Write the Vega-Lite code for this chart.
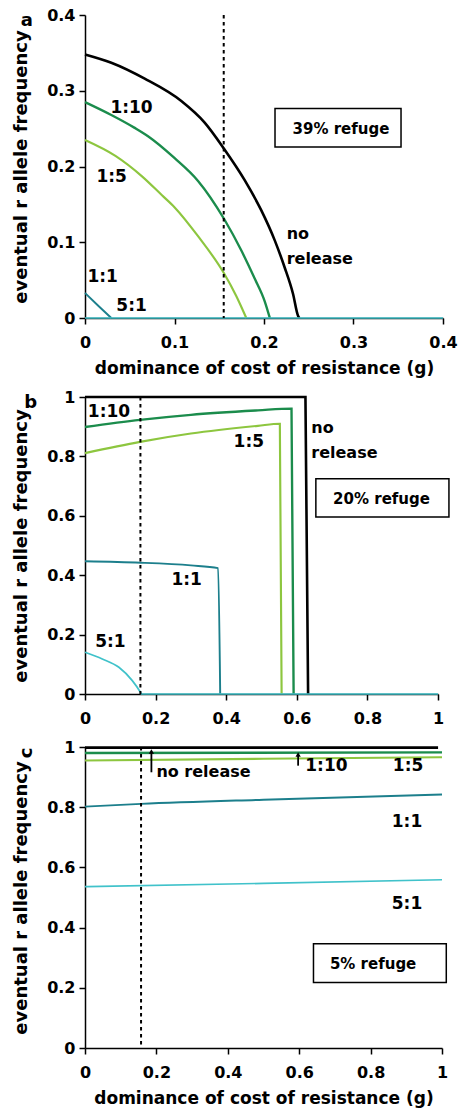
{
  "$schema": "https://vega.github.io/schema/vega-lite/v6.json",
  "background": "white",
  "padding": {"top": 7, "left": 12, "right": 4, "bottom": 4},
  "spacing": 13,
  "datasets": {
    "a_lines": [
      {"series": "no release", "g": 0, "f": 0.348},
      {"series": "no release", "g": 0.0294, "f": 0.337},
      {"series": "no release", "g": 0.0667, "f": 0.316},
      {"series": "no release", "g": 0.1076, "f": 0.2865},
      {"series": "no release", "g": 0.1337, "f": 0.258},
      {"series": "no release", "g": 0.1553, "f": 0.2235},
      {"series": "no release", "g": 0.1784, "f": 0.182},
      {"series": "no release", "g": 0.197, "f": 0.142},
      {"series": "no release", "g": 0.212, "f": 0.1025},
      {"series": "no release", "g": 0.223, "f": 0.067},
      {"series": "no release", "g": 0.2324, "f": 0.032},
      {"series": "no release", "g": 0.238, "f": 0.003},
      {"series": "no release", "g": 0.2395, "f": 0},
      {"series": "1:10", "g": 0, "f": 0.285},
      {"series": "1:10", "g": 0.0294, "f": 0.268},
      {"series": "1:10", "g": 0.0555, "f": 0.251},
      {"series": "1:10", "g": 0.0704, "f": 0.24},
      {"series": "1:10", "g": 0.1002, "f": 0.211},
      {"series": "1:10", "g": 0.1263, "f": 0.181},
      {"series": "1:10", "g": 0.1553, "f": 0.131},
      {"series": "1:10", "g": 0.1747, "f": 0.089},
      {"series": "1:10", "g": 0.1896, "f": 0.052},
      {"series": "1:10", "g": 0.2008, "f": 0.022},
      {"series": "1:10", "g": 0.2065, "f": 0},
      {"series": "1:5", "g": 0, "f": 0.235},
      {"series": "1:5", "g": 0.034, "f": 0.214},
      {"series": "1:5", "g": 0.0637, "f": 0.187},
      {"series": "1:5", "g": 0.086, "f": 0.162},
      {"series": "1:5", "g": 0.1002, "f": 0.146},
      {"series": "1:5", "g": 0.1263, "f": 0.108},
      {"series": "1:5", "g": 0.1553, "f": 0.059},
      {"series": "1:5", "g": 0.169, "f": 0.029},
      {"series": "1:5", "g": 0.1802, "f": 0},
      {"series": "1:1", "g": 0, "f": 0.033},
      {"series": "1:1", "g": 0.0145, "f": 0.0165},
      {"series": "1:1", "g": 0.0294, "f": 0},
      {"series": "5:1", "g": 0, "f": 0},
      {"series": "5:1", "g": 0.4, "f": 0}
    ],
    "b_lines": [
      {"series": "no release", "g": 0, "f": 1},
      {"series": "no release", "g": 0.6245, "f": 1},
      {"series": "no release", "g": 0.632, "f": 0},
      {"series": "1:10", "g": 0, "f": 0.899},
      {"series": "1:10", "g": 0.156, "f": 0.923},
      {"series": "1:10", "g": 0.3, "f": 0.94},
      {"series": "1:10", "g": 0.49, "f": 0.955},
      {"series": "1:10", "g": 0.585, "f": 0.961},
      {"series": "1:10", "g": 0.591, "f": 0},
      {"series": "1:5", "g": 0, "f": 0.811},
      {"series": "1:5", "g": 0.156, "f": 0.849},
      {"series": "1:5", "g": 0.3, "f": 0.877},
      {"series": "1:5", "g": 0.49, "f": 0.903},
      {"series": "1:5", "g": 0.552, "f": 0.91},
      {"series": "1:5", "g": 0.557, "f": 0},
      {"series": "1:1", "g": 0, "f": 0.447},
      {"series": "1:1", "g": 0.1575, "f": 0.442},
      {"series": "1:1", "g": 0.3, "f": 0.433},
      {"series": "1:1", "g": 0.377, "f": 0.424},
      {"series": "1:1", "g": 0.383, "f": 0},
      {"series": "5:1", "g": 0, "f": 0.1405},
      {"series": "5:1", "g": 0.049, "f": 0.118},
      {"series": "5:1", "g": 0.096, "f": 0.09},
      {"series": "5:1", "g": 0.134, "f": 0.045},
      {"series": "5:1", "g": 0.157, "f": 0.006},
      {"series": "5:1", "g": 0.16, "f": 0},
      {"series": "5:1", "g": 1, "f": 0}
    ],
    "c_lines": [
      {"series": "no release", "g": 0, "f": 0.998},
      {"series": "no release", "g": 0.989, "f": 0.998},
      {"series": "1:10", "g": 0, "f": 0.98},
      {"series": "1:10", "g": 1, "f": 0.982},
      {"series": "1:5", "g": 0, "f": 0.955},
      {"series": "1:5", "g": 0.5, "f": 0.961},
      {"series": "1:5", "g": 1, "f": 0.966},
      {"series": "1:1", "g": 0, "f": 0.802},
      {"series": "1:1", "g": 0.157, "f": 0.811},
      {"series": "1:1", "g": 0.5, "f": 0.825},
      {"series": "1:1", "g": 1, "f": 0.842},
      {"series": "5:1", "g": 0, "f": 0.536},
      {"series": "5:1", "g": 0.5, "f": 0.547},
      {"series": "5:1", "g": 1, "f": 0.559}
    ]
  },
  "vconcat": [
    {
      "width": 358,
      "height": 303,
      "layer": [
        {
          "data": {"name": "a_lines"},
          "mark": {"type": "line", "strokeCap": "butt", "interpolate": "monotone"},
          "encoding": {
            "x": {"field": "g", "type": "quantitative", "scale": {"domain": [0, 0.4], "nice": false},
              "axis": {"values": [0, 0.1, 0.2, 0.3, 0.4], "format": "~g", "title": "dominance of cost of resistance (g)"}},
            "y": {"field": "f", "type": "quantitative", "scale": {"domain": [0, 0.4], "nice": false},
              "axis": {"values": [0, 0.1, 0.2, 0.3, 0.4], "format": "~g", "title": "eventual r allele frequency"}},
            "color": {"field": "series", "type": "nominal", "legend": null,
              "scale": {"domain": ["no release", "1:10", "1:5", "1:1", "5:1"], "range": ["#000000", "#1b8c4c", "#8dc63f", "#1c7f8c", "#40c2ca"]}},
            "strokeWidth": {"field": "series", "type": "nominal", "legend": null,
              "scale": {"domain": ["no release", "1:10", "1:5", "1:1", "5:1"], "range": [2.6, 1.7, 1.7, 1.7, 1.7]}}
          }
        },
        {
          "data": {"values": [{"g": 0.155}]},
          "mark": {"type": "rule", "color": "#000", "strokeWidth": 2, "strokeDash": [3.5, 3.5]},
          "encoding": {"x": {"field": "g", "type": "quantitative"}}
        },
        {
          "data": {"values": [{"g1": 0.2123, "g2": 0.3531, "f1": 0.2259, "f2": 0.2767}]},
          "mark": {"type": "rect", "fill": "white", "stroke": "#000", "strokeWidth": 1.5},
          "encoding": {"x": {"field": "g1", "type": "quantitative"}, "x2": {"field": "g2"}, "y": {"field": "f1", "type": "quantitative"}, "y2": {"field": "f2"}}
        },
        {
          "data": {"values": [{"g": 0.286, "f": 0.25, "label": "39% refuge"}]},
          "mark": {"type": "text", "fontSize": 15, "align": "center", "baseline": "middle"},
          "encoding": {"x": {"field": "g", "type": "quantitative"}, "y": {"field": "f", "type": "quantitative"}, "text": {"field": "label"}}
        },
        {
          "data": {"values": [
            {"g": 0.052, "f": 0.277, "label": "1:10"},
            {"g": 0.0298, "f": 0.186, "label": "1:5"},
            {"g": 0.0197, "f": 0.054, "label": "1:1"},
            {"g": 0.052, "f": 0.0152, "label": "5:1"}
          ]},
          "mark": {"type": "text", "fontSize": 17, "align": "center", "baseline": "middle"},
          "encoding": {"x": {"field": "g", "type": "quantitative"}, "y": {"field": "f", "type": "quantitative"}, "text": {"field": "label"}}
        },
        {
          "data": {"values": [{"g": 0.2253, "f": 0.1107, "label": "no\nrelease"}]},
          "mark": {"type": "text", "fontSize": 16, "align": "left", "baseline": "middle", "lineBreak": "\n", "lineHeight": 25},
          "encoding": {"x": {"field": "g", "type": "quantitative"}, "y": {"field": "f", "type": "quantitative"}, "text": {"field": "label"}}
        },
        {
          "data": {"values": [{"g": -0.065, "f": 0.392, "label": "a"}]},
          "mark": {"type": "text", "fontSize": 18, "align": "center", "baseline": "middle"},
          "encoding": {"x": {"field": "g", "type": "quantitative"}, "y": {"field": "f", "type": "quantitative"}, "text": {"field": "label"}}
        }
      ]
    },
    {
      "width": 353,
      "height": 297,
      "layer": [
        {
          "data": {"name": "b_lines"},
          "mark": {"type": "line", "strokeCap": "butt", "interpolate": "monotone"},
          "encoding": {
            "x": {"field": "g", "type": "quantitative", "scale": {"domain": [0, 1], "nice": false},
              "axis": {"values": [0, 0.2, 0.4, 0.6, 0.8, 1], "format": "~g", "title": null}},
            "y": {"field": "f", "type": "quantitative", "scale": {"domain": [0, 1], "nice": false},
              "axis": {"values": [0, 0.2, 0.4, 0.6, 0.8, 1], "format": "~g", "title": "eventual r allele frequency"}},
            "color": {"field": "series", "type": "nominal", "legend": null,
              "scale": {"domain": ["no release", "1:10", "1:5", "1:1", "5:1"], "range": ["#000000", "#1b8c4c", "#8dc63f", "#1c7f8c", "#40c2ca"]}},
            "strokeWidth": {"field": "series", "type": "nominal", "legend": null,
              "scale": {"domain": ["no release", "1:10", "1:5", "1:1", "5:1"], "range": [2.6, 1.7, 1.7, 1.7, 1.7]}}
          }
        },
        {
          "data": {"values": [{"g": 0.157}]},
          "mark": {"type": "rule", "color": "#000", "strokeWidth": 2, "strokeDash": [3.5, 3.5]},
          "encoding": {"x": {"field": "g", "type": "quantitative"}}
        },
        {
          "data": {"values": [{"g1": 0.654, "g2": 1.031, "f1": 0.596, "f2": 0.725}]},
          "mark": {"type": "rect", "fill": "white", "stroke": "#000", "strokeWidth": 1.5},
          "encoding": {"x": {"field": "g1", "type": "quantitative"}, "x2": {"field": "g2"}, "y": {"field": "f1", "type": "quantitative"}, "y2": {"field": "f2"}}
        },
        {
          "data": {"values": [{"g": 0.84, "f": 0.655, "label": "20% refuge"}]},
          "mark": {"type": "text", "fontSize": 15, "align": "center", "baseline": "middle"},
          "encoding": {"x": {"field": "g", "type": "quantitative"}, "y": {"field": "f", "type": "quantitative"}, "text": {"field": "label"}}
        },
        {
          "data": {"values": [
            {"g": 0.068, "f": 0.949, "label": "1:10"},
            {"g": 0.464, "f": 0.85, "label": "1:5"},
            {"g": 0.288, "f": 0.385, "label": "1:1"},
            {"g": 0.072, "f": 0.174, "label": "5:1"}
          ]},
          "mark": {"type": "text", "fontSize": 17, "align": "center", "baseline": "middle"},
          "encoding": {"x": {"field": "g", "type": "quantitative"}, "y": {"field": "f", "type": "quantitative"}, "text": {"field": "label"}}
        },
        {
          "data": {"values": [{"g": 0.641, "f": 0.896, "label": "no\nrelease"}]},
          "mark": {"type": "text", "fontSize": 16, "align": "left", "baseline": "middle", "lineBreak": "\n", "lineHeight": 25},
          "encoding": {"x": {"field": "g", "type": "quantitative"}, "y": {"field": "f", "type": "quantitative"}, "text": {"field": "label"}}
        },
        {
          "data": {"values": [{"g": -0.154, "f": 0.98, "label": "b"}]},
          "mark": {"type": "text", "fontSize": 18, "align": "center", "baseline": "middle"},
          "encoding": {"x": {"field": "g", "type": "quantitative"}, "y": {"field": "f", "type": "quantitative"}, "text": {"field": "label"}}
        }
      ]
    },
    {
      "width": 357,
      "height": 301,
      "layer": [
        {
          "data": {"name": "c_lines"},
          "mark": {"type": "line", "strokeCap": "butt", "interpolate": "monotone"},
          "encoding": {
            "x": {"field": "g", "type": "quantitative", "scale": {"domain": [0, 1], "nice": false},
              "axis": {"values": [0, 0.2, 0.4, 0.6, 0.8, 1], "format": "~g", "title": "dominance of cost of resistance (g)"}},
            "y": {"field": "f", "type": "quantitative", "scale": {"domain": [0, 1], "nice": false},
              "axis": {"values": [0, 0.2, 0.4, 0.6, 0.8, 1], "format": "~g", "title": "eventual r allele frequency"}},
            "color": {"field": "series", "type": "nominal", "legend": null,
              "scale": {"domain": ["no release", "1:10", "1:5", "1:1", "5:1"], "range": ["#000000", "#1b8c4c", "#8dc63f", "#1c7f8c", "#40c2ca"]}},
            "strokeWidth": {"field": "series", "type": "nominal", "legend": null,
              "scale": {"domain": ["no release", "1:10", "1:5", "1:1", "5:1"], "range": [1.8, 1.8, 1.7, 1.7, 1.7]}}
          }
        },
        {
          "data": {"values": [{"g": 0.157}]},
          "mark": {"type": "rule", "color": "#000", "strokeWidth": 2, "strokeDash": [3.5, 3.5]},
          "encoding": {"x": {"field": "g", "type": "quantitative"}}
        },
        {
          "data": {"values": [{"g": 0.186, "f1": 0.916, "f2": 0.982}, {"g": 0.597, "f1": 0.938, "f2": 0.972}]},
          "mark": {"type": "rule", "color": "#000", "strokeWidth": 1.8},
          "encoding": {"x": {"field": "g", "type": "quantitative"}, "y": {"field": "f1", "type": "quantitative"}, "y2": {"field": "f2"}}
        },
        {
          "data": {"values": [{"g": 0.186, "f": 0.985}, {"g": 0.597, "f": 0.975}]},
          "mark": {"type": "point", "shape": "triangle-up", "filled": true, "color": "#000", "size": 28, "opacity": 1},
          "encoding": {"x": {"field": "g", "type": "quantitative"}, "y": {"field": "f", "type": "quantitative"}}
        },
        {
          "data": {"values": [{"g1": 0.64, "g2": 1.012, "f1": 0.218, "f2": 0.346}]},
          "mark": {"type": "rect", "fill": "white", "stroke": "#000", "strokeWidth": 1.5},
          "encoding": {"x": {"field": "g1", "type": "quantitative"}, "x2": {"field": "g2"}, "y": {"field": "f1", "type": "quantitative"}, "y2": {"field": "f2"}}
        },
        {
          "data": {"values": [{"g": 0.807, "f": 0.279, "label": "5% refuge"}]},
          "mark": {"type": "text", "fontSize": 15, "align": "center", "baseline": "middle"},
          "encoding": {"x": {"field": "g", "type": "quantitative"}, "y": {"field": "f", "type": "quantitative"}, "text": {"field": "label"}}
        },
        {
          "data": {"values": [
            {"g": 0.905, "f": 0.937, "label": "1:5"},
            {"g": 0.902, "f": 0.752, "label": "1:1"},
            {"g": 0.902, "f": 0.479, "label": "5:1"}
          ]},
          "mark": {"type": "text", "fontSize": 17, "align": "center", "baseline": "middle"},
          "encoding": {"x": {"field": "g", "type": "quantitative"}, "y": {"field": "f", "type": "quantitative"}, "text": {"field": "label"}}
        },
        {
          "data": {"values": [{"g": 0.2, "f": 0.917, "label": "no release"}]},
          "mark": {"type": "text", "fontSize": 16, "align": "left", "baseline": "middle"},
          "encoding": {"x": {"field": "g", "type": "quantitative"}, "y": {"field": "f", "type": "quantitative"}, "text": {"field": "label"}}
        },
        {
          "data": {"values": [{"g": 0.617, "f": 0.937, "label": "1:10"}]},
          "mark": {"type": "text", "fontSize": 17, "align": "left", "baseline": "middle"},
          "encoding": {"x": {"field": "g", "type": "quantitative"}, "y": {"field": "f", "type": "quantitative"}, "text": {"field": "label"}}
        },
        {
          "data": {"values": [{"g": -0.162, "f": 0.98, "label": "c"}]},
          "mark": {"type": "text", "fontSize": 18, "align": "center", "baseline": "middle", "angle": 270},
          "encoding": {"x": {"field": "g", "type": "quantitative"}, "y": {"field": "f", "type": "quantitative"}, "text": {"field": "label"}}
        }
      ]
    }
  ],
  "config": {
    "font": "DejaVu Sans",
    "view": {"stroke": null},
    "axis": {
      "grid": false,
      "domainColor": "#000",
      "domainWidth": 1.5,
      "tickColor": "#000",
      "tickWidth": 1.5,
      "tickSize": 6,
      "labelFont": "DejaVu Sans",
      "labelFontWeight": "bold",
      "labelFontSize": 16,
      "labelColor": "#000",
      "labelPadding": 4,
      "labelFlush": false,
      "labelOverlap": false,
      "titleFont": "DejaVu Sans",
      "titleFontWeight": "bold",
      "titleFontSize": 17,
      "titleColor": "#000"
    },
    "axisX": {"labelPadding": 10, "titlePadding": 10},
    "axisY": {"titleFontSize": 18, "titlePadding": 16},
    "text": {"font": "DejaVu Sans", "fontWeight": "bold", "color": "#000"}
  }
}
